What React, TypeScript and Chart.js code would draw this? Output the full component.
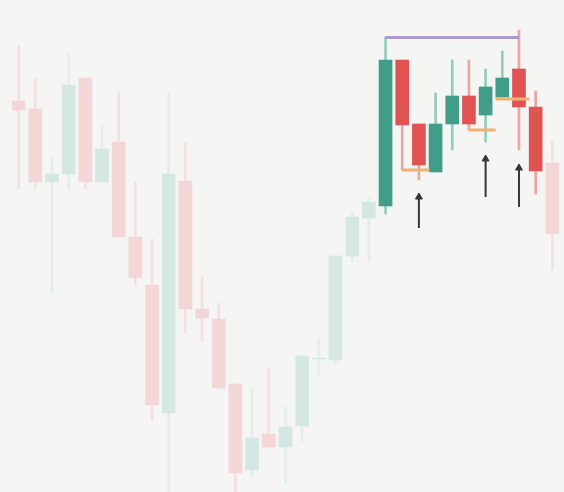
import React, { useEffect, useRef } from "react";
import { Chart, registerables } from "chart.js";

Chart.register(...registerables);

// Candle data (price units), one entry per session
const opens = [399, 391, 318, 326, 422, 318, 358, 263, 215, 87, 319, 191, 181, 116, 30, 66, 53, 74, 141, 140, 244, 282, 294, 440, 376, 328, 376, 404, 385, 403, 431, 393, 337];
const highs = [454, 422, 343, 447, 422, 375, 407, 318, 261, 407, 358, 223, 197, 116, 112, 132, 93, 144, 162, 244, 288, 302, 463, 440, 376, 407, 440, 440, 431, 449, 470, 409, 360];
const lows = [311, 311, 207, 311, 311, 318, 263, 215, 79, 5, 167, 159, 112, 5, 23, 53, 17, 59, 125, 135, 238, 238, 286, 330, 320, 328, 350, 370, 358, 403, 350, 306, 230];
const closes = [390, 318, 326, 415, 318, 351, 263, 222, 95, 326, 191, 182, 112, 27, 62, 53, 73, 144, 142, 244, 283, 298, 440, 375, 335, 376, 404, 376, 413, 422, 393, 329, 266];

// Highlighted sessions
const highlightStart = 22;
const highlightEnd = 31;

// Range line across the top of the highlighted swing
const rangeFrom = 22;
const rangeTo = 30;
const rangeLevel = 462.5;

// Support levels: [fromIndex, toIndex, level]
const supportFrom = [23, 27, 28.6];
const supportTo = [24.63, 28.6, 30.63];
const supportLevels = [330, 370, 401];

// Arrows: index, start (bottom) and tip values
const arrowAt = [24, 28, 30];
const arrowBottom = [272, 303, 293];
const arrowTip = [307, 345, 336];

const COLORS = {
  bg: "#f5f5f4",
  upBody: "#409e88",
  downBody: "#e05353",
  upWick: "#93cbbd",
  downWick: "#eaa5a5",
  fadedUpBody: "#d4e7e2",
  fadedDownBody: "#f3d6d6",
  fadedUpWick: "#e2eeeb",
  fadedDownWick: "#f3e0e0",
  range: "#a99ccc",
  support: "#f0b26e",
  arrow: "#363636",
};

export default function App() {
  const ref = useRef<HTMLCanvasElement | null>(null);

  useEffect(() => {
    document.body.style.margin = "0";
    document.body.style.background = COLORS.bg;
    document.body.style.overflow = "hidden";
    const canvas = ref.current;
    if (!canvas) return;

    const isUp = (i: number) => closes[i] >= opens[i];
    const isHi = (i: number) => i >= highlightStart && i <= highlightEnd;

    const bodyColor = (i: number) =>
      isHi(i)
        ? isUp(i) ? COLORS.upBody : COLORS.downBody
        : isUp(i) ? COLORS.fadedUpBody : COLORS.fadedDownBody;
    const wickColor = (i: number) =>
      isHi(i)
        ? isUp(i) ? COLORS.upWick : COLORS.downWick
        : isUp(i) ? COLORS.fadedUpWick : COLORS.fadedDownWick;

    const idx = opens.map((_, i) => i);

    const datasets: any[] = [];

    datasets.push({
      type: "bar",
      label: "wicks",
      data: idx.map((i) => ({ x: i, y: [lows[i], highs[i]] })),
      backgroundColor: idx.map(wickColor),
      barThickness: 2,
      grouped: false,
      borderWidth: 0,
      order: 3,
    });

    datasets.push({
      type: "bar",
      label: "bodies",
      data: idx.map((i) => ({
        x: i,
        y: opens[i] === closes[i] ? [opens[i], opens[i] + 1] : [opens[i], closes[i]],
      })),
      backgroundColor: idx.map(bodyColor),
      barThickness: 13,
      grouped: false,
      borderWidth: 0,
      order: 2,
    });

    datasets.push({
      type: "line",
      label: "range",
      data: [
        { x: rangeFrom, y: rangeLevel },
        { x: rangeTo, y: rangeLevel },
      ],
      borderColor: COLORS.range,
      borderWidth: 3,
      pointRadius: 0,
      order: 1,
    });

    supportLevels.forEach((lvl, k) => {
      datasets.push({
        type: "line",
        label: "support" + k,
        data: [
          { x: supportFrom[k], y: lvl },
          { x: supportTo[k], y: lvl },
        ],
        borderColor: COLORS.support,
        borderWidth: 3,
        pointRadius: 0,
        order: 1,
      });
    });

    const headR = 4;
    arrowAt.forEach((ax, k) => {
      datasets.push({
        type: "line",
        label: "arrow" + k,
        data: [
          { x: ax, y: arrowBottom[k] },
          { x: ax, y: arrowTip[k] - headR },
        ],
        borderColor: COLORS.arrow,
        borderWidth: 2,
        pointRadius: [0, headR],
        pointStyle: "triangle",
        pointBackgroundColor: COLORS.arrow,
        pointBorderColor: COLORS.arrow,
        pointBorderWidth: 1,
        order: 0,
      });
    });

    const chart = new Chart(canvas, {
      type: "bar",
      data: { datasets },
      options: {
        animation: false,
        responsive: false,
        events: [],
        layout: { padding: 0, autoPadding: false },
        plugins: { legend: { display: false }, tooltip: { enabled: false } },
        scales: {
          x: {
            type: "linear",
            display: false,
            offset: false,
            min: -1.117,
            max: 32.7,
          },
          y: {
            type: "linear",
            display: false,
            min: 8,
            max: 500,
          },
        },
      },
    });

    return () => chart.destroy();
  }, []);

  return (
    <div style={{ width: 564, height: 492, background: COLORS.bg, overflow: "hidden" }}>
      <canvas ref={ref} width={564} height={492} style={{ display: "block" }} />
    </div>
  );
}
